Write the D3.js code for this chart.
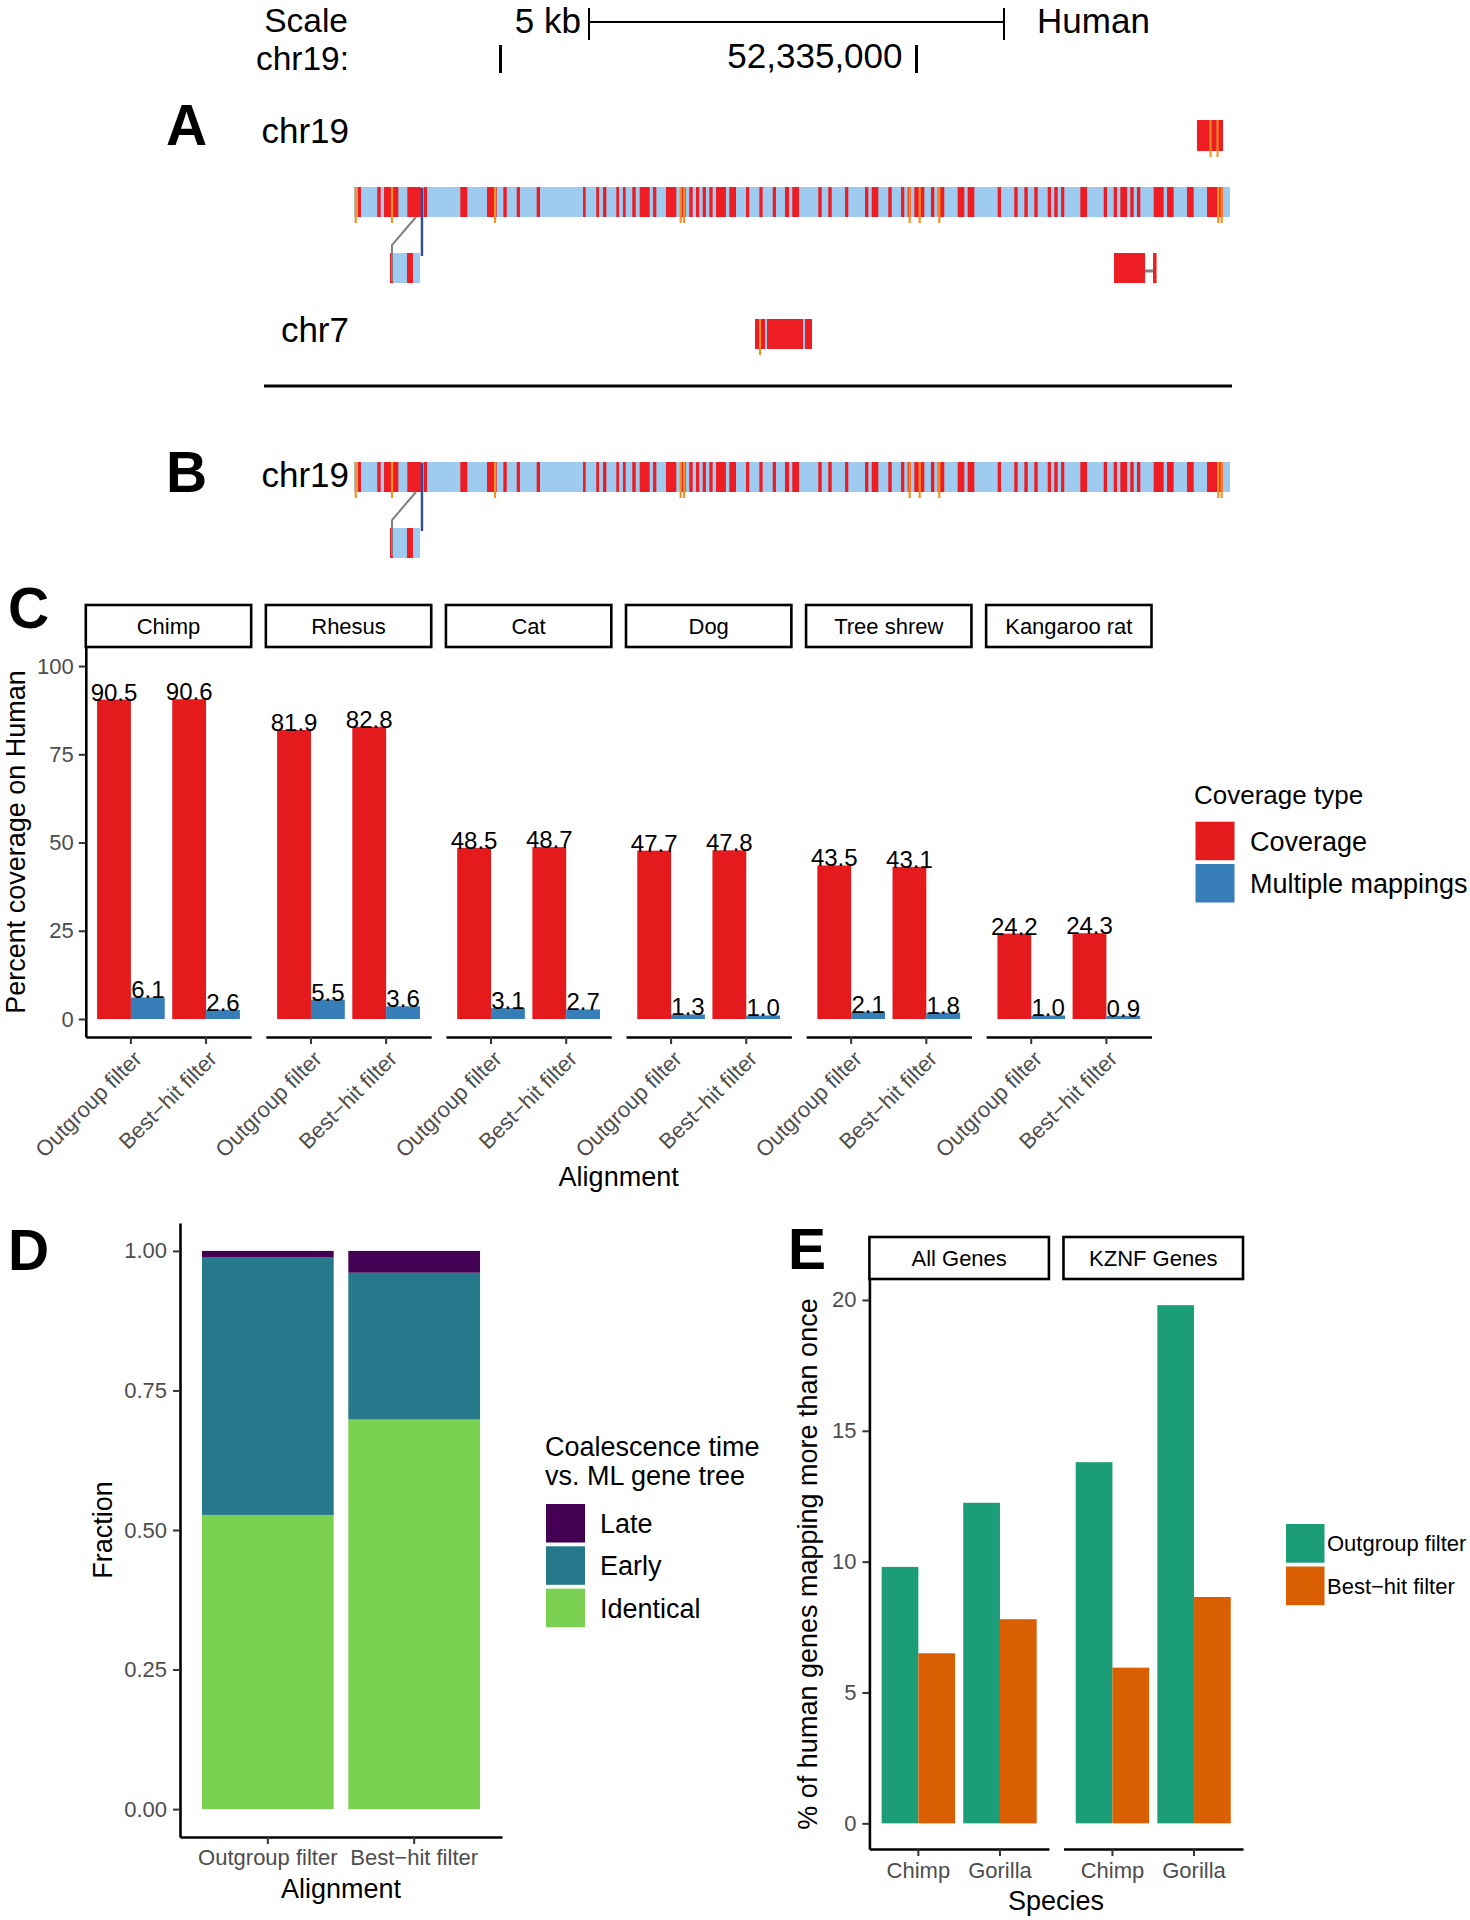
<!DOCTYPE html>
<html><head><meta charset="utf-8">
<script src="https://cdn.jsdelivr.net/npm/d3@7"></script>
<style>
body{margin:0;background:#fff;}
svg{display:block;font-family:"Liberation Sans",Arial,Helvetica,sans-serif;}
.ax .domain{stroke:#000;stroke-width:2.6px;}
.ax .tick line{stroke:#333;stroke-width:2px;}
.ax .tick text{fill:#4d4d4d;font-size:22px;font-family:"Liberation Sans",Arial,Helvetica,sans-serif;}
</style></head><body>
<svg id="fig" width="1470" height="1920"></svg>
<script>
// ================= DATA =================
// Panels A/B : genome-browser tracks, positions in kb relative to chr19:52,330,000
const chromTickKb = [0, 5];
const chromTickLabels = ["", "52,335,000"];
const scaleBarKb = [1.064, 6.052];
const mainSpanKb = [-1.761, 8.768];
const alignedBlocksKb = [
  [-1.716,-1.677],[-1.481,-1.440],[-1.400,-1.228],[-1.120,-0.956],[-0.923,-0.883],
  [-0.483,-0.399],[-0.162,-0.046],[0.034,0.075],[0.195,0.234],[0.435,0.475],
  [0.992,1.024],[1.151,1.184],[1.232,1.272],[1.392,1.424],[1.472,1.505],
  [1.584,1.625],[1.673,1.793],[1.833,1.873],[1.989,2.113],[2.157,2.226],
  [2.269,2.310],[2.350,2.389],[2.430,2.470],[2.510,2.550],[2.590,2.710],
  [2.750,2.831],[2.951,2.990],[3.111,3.151],[3.272,3.311],[3.419,3.468],
  [3.507,3.588],[3.820,3.861],[3.940,3.981],[4.141,4.180],[4.381,4.421],
  [4.462,4.541],[4.661,4.702],[4.814,4.853],[4.894,4.934],[4.974,5.094],
  [5.174,5.214],[5.255,5.334],[5.495,5.575],[5.615,5.695],[5.976,6.016],
  [6.175,6.216],[6.296,6.337],[6.416,6.457],[6.577,6.617],[6.656,6.697],
  [6.737,6.776],[6.969,7.050],[7.250,7.290],[7.370,7.410],[7.450,7.531],
  [7.570,7.611],[7.650,7.690],[7.851,7.971],[8.011,8.091],[8.251,8.332],
  [8.492,8.684]
];
const orangeMarksKb = [-1.740,-1.304,-0.066,2.166,2.206,4.918,5.038,5.274,8.627,8.668];
const topBlockKb = [8.371, 8.684];
const topBlockMarksKb = [8.534, 8.618];
const leftDupSpanKb = [-1.328, -0.968];
const leftDupBlocksKb = [[-1.328,-1.292],[-1.124,-1.052]];
const connectorKb = [-1.016, -1.304];
const blueMarkKb = -0.944;
const rightDupBlockKb = [7.374, 7.747];
const rightDupGapKb = [7.747, 7.843];
const rightDupThinKb = [7.843, 7.885];
const chr7SpanKb = [3.059, 3.744];
const chr7GapsKb = [3.191, 3.648];
const chr7MarksKb = [3.119];

// Panel C
const speciesC = ["Chimp","Rhesus","Cat","Dog","Tree shrew","Kangaroo rat"];
const alignments = ["Outgroup filter","Best\u2212hit filter"];
const coverageTypes = ["Coverage","Multiple mappings"];
const coverageOutgroup = [90.5,81.9,48.5,47.7,43.5,24.2];
const coverageBesthit  = [90.6,82.8,48.7,47.8,43.1,24.3];
const multiOutgroup    = [6.1,5.5,3.1,1.3,2.1,1.0];
const multiBesthit     = [2.6,3.6,2.7,1.0,1.8,0.9];
const yTicksC = [0,25,50,75,100];

// Panel D
const coalescenceClasses = ["Late","Early","Identical"];
const fracIdentical = [0.527,0.698];
const fracEarly     = [0.462,0.263];
const fracLate      = [0.011,0.039];
const yTicksD = [0,0.25,0.5,0.75,1];

// Panel E
const geneSets = ["All Genes","KZNF Genes"];
const speciesE = ["Chimp","Gorilla"];
const filtersE = ["Outgroup filter","Best\u2212hit filter"];
const outgroupAll  = [9.8,12.25];
const besthitAll   = [6.5,7.8];
const outgroupKZNF = [13.8,19.8];
const besthitKZNF  = [5.95,8.65];
const yTicksE = [0,5,10,15,20];

// ================= DRAW =================
const svg = d3.select("#fig");
function txt(g, x, y, s, size, opt={}) {
  const t = g.append("text").attr("x", x).attr("y", y).text(s)
    .attr("font-size", size).attr("fill", opt.fill || "#000");
  if (opt.anchor) t.attr("text-anchor", opt.anchor);
  if (opt.weight) t.attr("font-weight", opt.weight);
  if (opt.dy) t.attr("dy", opt.dy);
  if (opt.transform) t.attr("transform", opt.transform);
  return t;
}
const RED = "#ee1d24", LBLUE = "#9ecbef", ORANGE = "#f39322", NAVY = "#2e4aa3", GREY = "#808080";

// ---------- Panels A / B ----------
const gx = d3.scaleLinear().domain([0,5]).range([500.5,916.5]);
const A = svg.append("g");
function rectKb(span, y, h, color) {
  A.append("rect").attr("x", gx(span[0])).attr("width", gx(span[1]) - gx(span[0]))
    .attr("y", y).attr("height", h).attr("fill", color);
}
function vline(kb, y0, y1, color, w) {
  A.append("line").attr("x1", gx(kb)).attr("x2", gx(kb)).attr("y1", y0).attr("y2", y1)
    .attr("stroke", color).attr("stroke-width", w);
}
// scale header
txt(A, 348, 32, "Scale", 33.5, {anchor:"end"});
txt(A, 349, 69.5, "chr19:", 33.5, {anchor:"end"});
txt(A, gx(scaleBarKb[0]) - 8, 33, "5 kb", 35, {anchor:"end"});
txt(A, gx(scaleBarKb[1]) + 33, 33, "Human", 35);
A.append("line").attr("x1", gx(scaleBarKb[0])).attr("x2", gx(scaleBarKb[1])).attr("y1", 22).attr("y2", 22).attr("stroke","#000").attr("stroke-width",2);
scaleBarKb.forEach(k => vline(k, 8, 40, "#000", 2));
chromTickKb.forEach((k,i) => {
  vline(k, 45, 73, "#000", 3);
  if (chromTickLabels[i]) txt(A, gx(k) - 14, 68, chromTickLabels[i], 35, {anchor:"end"});
});

// panel letters & track labels
txt(A, 166, 145, "A", 57, {weight:"bold"});
txt(A, 349, 143, "chr19", 35, {anchor:"end"});
txt(A, 349, 342, "chr7", 35, {anchor:"end"});
txt(A, 166, 492, "B", 57, {weight:"bold"});
txt(A, 349, 487, "chr19", 35, {anchor:"end"});

const TH = 30;
function mainTrack(y) {
  rectKb(mainSpanKb, y, TH, LBLUE);
  alignedBlocksKb.forEach(b => rectKb(b, y, TH, RED));
  orangeMarksKb.forEach(k => vline(k, y, y + TH + 6, ORANGE, 2.2));
}
function dupLeft(yMain, yDup) {
  rectKb(leftDupSpanKb, yDup, TH, LBLUE);
  leftDupBlocksKb.forEach(b => rectKb(b, yDup, TH, RED));
  A.append("path")
    .attr("d", `M${gx(connectorKb[0])},${yMain+TH}L${gx(connectorKb[1])},${yDup-8}L${gx(connectorKb[1])},${yDup+TH-2}`)
    .attr("fill","none").attr("stroke",GREY).attr("stroke-width",2);
  vline(blueMarkKb, yMain + 1, yDup + 3, NAVY, 2.4);
}
// A row 1: small block on chr19
rectKb(topBlockKb, 120, 31, RED);
topBlockMarksKb.forEach(k => vline(k, 120, 157, ORANGE, 2));
// A main
mainTrack(187);
dupLeft(187, 253);
rectKb(rightDupBlockKb, 253, TH, RED);
A.append("line").attr("x1", gx(rightDupGapKb[0])).attr("x2", gx(rightDupGapKb[1])).attr("y1", 271).attr("y2", 271).attr("stroke",GREY).attr("stroke-width",3);
rectKb(rightDupThinKb, 253, TH, RED);
// chr7
rectKb(chr7SpanKb, 319, TH, RED);
chr7GapsKb.forEach(k => vline(k, 319, 349, LBLUE, 2));
chr7MarksKb.forEach(k => vline(k, 319, 355, ORANGE, 2));
// separator
A.append("line").attr("x1", 264).attr("x2", 1232).attr("y1", 386).attr("y2", 386).attr("stroke","#000").attr("stroke-width",3);
// B
mainTrack(462);
dupLeft(462, 528);

// ---------- Panel C ----------
const C = svg.append("g");
txt(C, 8, 628, "C", 57, {weight:"bold"});
const facetC = d3.scaleBand().domain(speciesC).range([85.8, 1151.5]).paddingInner(0.0816);
const alignC = d3.scaleBand().domain(alignments).range([0, facetC.bandwidth()]).paddingInner(0.1).paddingOuter(0.15);
const typeC = d3.scaleBand().domain(coverageTypes).range([0, alignC.bandwidth()]);
const yC = d3.scaleLinear().domain([-5.1, 105.4]).range([1037, 647]);
const colorC = d3.scaleOrdinal().domain(coverageTypes).range(["#e41a1c","#377eb8"]);
const fmt1 = d3.format(".1f");
const rowsC = [];
speciesC.forEach((s,i) => {
  rowsC.push({s, a:alignments[0], t:coverageTypes[0], v:coverageOutgroup[i]});
  rowsC.push({s, a:alignments[0], t:coverageTypes[1], v:multiOutgroup[i]});
  rowsC.push({s, a:alignments[1], t:coverageTypes[0], v:coverageBesthit[i]});
  rowsC.push({s, a:alignments[1], t:coverageTypes[1], v:multiBesthit[i]});
});
speciesC.forEach(s => {
  const x0 = facetC(s), w = facetC.bandwidth();
  C.append("rect").attr("x", x0).attr("y", 605).attr("width", w).attr("height", 42)
    .attr("fill","#fff").attr("stroke","#000").attr("stroke-width",2.6);
  txt(C, x0 + w/2, 626, s, 22, {anchor:"middle", dy:"0.35em"});
  const ax = C.append("g").attr("class","ax").attr("transform",`translate(${x0},1037)`)
    .call(d3.axisBottom(alignC).tickSize(7).tickSizeOuter(0));
  ax.selectAll(".tick text").attr("x",0).attr("y",0).attr("dy","0.72em")
    .attr("text-anchor","end").attr("transform","translate(1,12) rotate(-45)");
});
const barsC = C.append("g");
rowsC.forEach(d => {
  const x = facetC(d.s) + alignC(d.a) + typeC(d.t);
  barsC.append("rect").attr("x", x).attr("width", typeC.bandwidth())
    .attr("y", yC(d.v)).attr("height", yC(0) - yC(d.v)).attr("fill", colorC(d.t));
});
rowsC.forEach(d => {
  const x = facetC(d.s) + alignC(d.a) + typeC(d.t) + typeC.bandwidth()/2;
  txt(barsC, x, yC(d.v) + 1, fmt1(d.v), 24, {anchor:"middle"});
});
C.append("g").attr("class","ax").attr("transform","translate(85.8,0)")
  .call(d3.axisLeft(yC).tickValues(yTicksC).tickSize(7).tickSizeOuter(0).tickPadding(5));
txt(C, 0, 0, "Percent coverage on Human", 27, {anchor:"middle", transform:"translate(25,842) rotate(-90)"});
txt(C, (85.8+1151.5)/2, 1186, "Alignment", 27, {anchor:"middle"});
// legend C
txt(C, 1194, 804, "Coverage type", 26);
coverageTypes.forEach((t,i) => {
  C.append("rect").attr("x",1195.5).attr("y",821.7 + i*42.3).attr("width",39).attr("height",38.5).attr("fill",colorC(t));
  txt(C, 1250, 821.7 + i*42.3 + 19.5, t, 27, {dy:"0.35em"});
});

// ---------- Panel D ----------
const D = svg.append("g");
txt(D, 8, 1270, "D", 57, {weight:"bold"});
const xD = d3.scaleBand().domain(alignments).range([180, 502]).paddingInner(0.1).paddingOuter(0.15);
const yD = d3.scaleLinear().domain([-0.05, 1.05]).range([1837, 1223]);
const colorD = d3.scaleOrdinal().domain(coalescenceClasses).range(["#440154","#26788b","#7ad151"]);
const rowsD = alignments.map((a,i) => ({a, Identical:fracIdentical[i], Early:fracEarly[i], Late:fracLate[i]}));
const stackD = d3.stack().keys(["Identical","Early","Late"])(rowsD);
stackD.forEach(layer => {
  layer.forEach(seg => {
    D.append("rect").attr("x", xD(seg.data.a)).attr("width", xD.bandwidth())
      .attr("y", yD(seg[1])).attr("height", yD(seg[0]) - yD(seg[1])).attr("fill", colorD(layer.key));
  });
});
D.append("g").attr("class","ax").attr("transform","translate(180,0)")
  .call(d3.axisLeft(yD).tickValues(yTicksD).tickFormat(d3.format(".2f")).tickSize(7).tickSizeOuter(0).tickPadding(6));
D.append("g").attr("class","ax").attr("transform","translate(0,1837)")
  .call(d3.axisBottom(xD).tickSize(7).tickSizeOuter(0).tickPadding(5));
txt(D, 0, 0, "Fraction", 27, {anchor:"middle", transform:"translate(112,1530) rotate(-90)"});
txt(D, 341, 1898, "Alignment", 27, {anchor:"middle"});
txt(D, 545, 1456, "Coalescence time", 27);
txt(D, 545, 1485, "vs. ML gene tree", 27);
coalescenceClasses.forEach((c,i) => {
  D.append("rect").attr("x",546).attr("y",1504 + i*42.3).attr("width",39).attr("height",38.5).attr("fill",colorD(c));
  txt(D, 600, 1504 + i*42.3 + 19.5, c, 27, {dy:"0.35em"});
});

// ---------- Panel E ----------
const E = svg.append("g");
txt(E, 788, 1269, "E", 57, {weight:"bold"});
const facetE = d3.scaleBand().domain(geneSets).range([869.4, 1243]).paddingInner(0.075);
const spE = d3.scaleBand().domain(speciesE).range([0, facetE.bandwidth()]).paddingInner(0.1).paddingOuter(0.15);
const filtE = d3.scaleBand().domain(filtersE).range([0, spE.bandwidth()]);
const yE = d3.scaleLinear().domain([-0.98, 20.8]).range([1849, 1279]);
const colorE = d3.scaleOrdinal().domain(filtersE).range(["#1b9e77","#d95f02"]);
const valsE = {"All Genes":[outgroupAll, besthitAll], "KZNF Genes":[outgroupKZNF, besthitKZNF]};
geneSets.forEach(gs => {
  const x0 = facetE(gs), w = facetE.bandwidth();
  E.append("rect").attr("x", x0).attr("y", 1237).attr("width", w).attr("height", 42)
    .attr("fill","#fff").attr("stroke","#000").attr("stroke-width",2.6);
  txt(E, x0 + w/2, 1258, gs, 22, {anchor:"middle", dy:"0.35em"});
  speciesE.forEach((sp, si) => {
    filtersE.forEach((f, fi) => {
      const v = valsE[gs][fi][si];
      E.append("rect").attr("x", x0 + spE(sp) + filtE(f)).attr("width", filtE.bandwidth())
        .attr("y", yE(v)).attr("height", yE(0) - yE(v)).attr("fill", colorE(f));
    });
  });
  E.append("g").attr("class","ax").attr("transform",`translate(${x0},1849)`)
    .call(d3.axisBottom(spE).tickSize(7).tickSizeOuter(0).tickPadding(6));
});
E.append("g").attr("class","ax").attr("transform","translate(869.4,0)")
  .call(d3.axisLeft(yE).tickValues(yTicksE).tickSize(7).tickSizeOuter(0).tickPadding(6));
txt(E, 0, 0, "% of human genes mapping more than once", 27, {anchor:"middle", transform:"translate(817,1564) rotate(-90)"});
txt(E, 1056, 1910, "Species", 27, {anchor:"middle"});
filtersE.forEach((f,i) => {
  E.append("rect").attr("x",1286).attr("y",1524 + i*42.5).attr("width",38.5).attr("height",38.7).attr("fill",colorE(f));
  txt(E, 1327, 1524 + i*42.5 + 19.5, f, 22, {dy:"0.35em"});
});
</script>
</body></html>
